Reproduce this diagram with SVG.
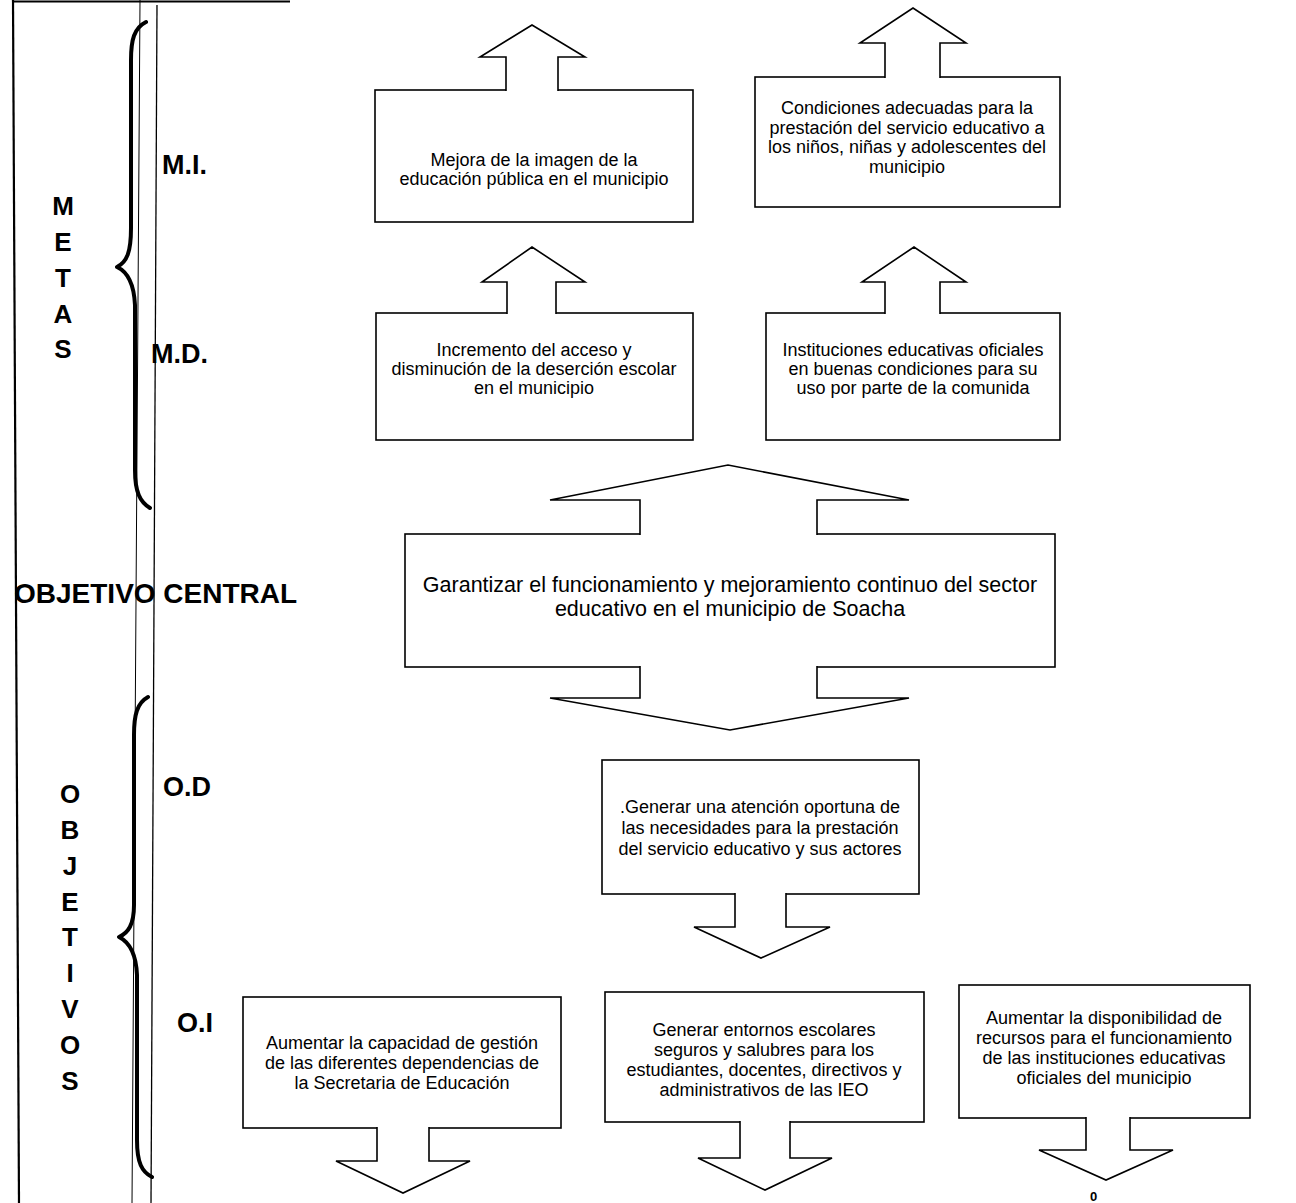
<svg xmlns="http://www.w3.org/2000/svg" width="1296" height="1203" viewBox="0 0 1296 1203">
<style>
.bg{fill:#fff}
.box{fill:#fff;stroke:#000;stroke-width:1.6}
.arr{fill:#fff;stroke:#000;stroke-width:1.6;stroke-linejoin:miter}
.t{font-family:"Liberation Sans",Arial,sans-serif;font-size:18px;fill:#000;text-anchor:middle}
.tc{font-size:21.5px}
.lbl{font-family:"Liberation Sans",Arial,sans-serif;font-weight:bold;font-size:27px;fill:#000}
.vl{font-family:"Liberation Sans",Arial,sans-serif;font-weight:bold;font-size:26px;fill:#000;text-anchor:middle}
.brace{fill:none;stroke:#000;stroke-width:4;stroke-linecap:round;stroke-linejoin:round}
.rule{fill:none;stroke:#000}
</style>
<rect class="bg" x="0" y="0" width="1296" height="1203"/>
<g id="frame">
<path class="rule" stroke-width="2" d="M12,1.5 H290"/>
<path class="rule" stroke-width="2.2" d="M13,0 L19,1203"/>
<path class="rule" stroke-width="1" d="M140,0 L132,1203"/>
<path class="rule" stroke-width="1.3" d="M157,5 L151,1203"/>
<path class="brace" d="M146,22 C134,28 131,40 131,60 L131,228 C131,252 127,262 117,267 C128,272 134,285 135,305 L135,470 C135,492 140,502 150,508"/>
<path class="brace" d="M148,697 C137,703 134,715 134,735 L134,905 C134,925 128,933 119,937 C129,942 136,952 137,975 L137,1140 C137,1163 142,1172 152,1177"/>
</g>
<g id="labels">
<text class="vl" x="63" y="215">M</text>
<text class="vl" x="63" y="251">E</text>
<text class="vl" x="63" y="287">T</text>
<text class="vl" x="63" y="323">A</text>
<text class="vl" x="63" y="358">S</text>
<text class="lbl" x="162" y="174">M.I.</text>
<text class="lbl" x="151" y="363">M.D.</text>
<text class="lbl" x="14" y="603" style="font-size:28px">OBJETIVO CENTRAL</text>
<text class="lbl" x="163" y="796">O.D</text>
<text class="lbl" x="177" y="1032">O.I</text>
<text class="vl" x="70" y="803">O</text>
<text class="vl" x="70" y="839">B</text>
<text class="vl" x="70" y="875">J</text>
<text class="vl" x="70" y="911">E</text>
<text class="vl" x="70" y="946">T</text>
<text class="vl" x="70" y="982">I</text>
<text class="vl" x="70" y="1018">V</text>
<text class="vl" x="70" y="1054">O</text>
<text class="vl" x="70" y="1090">S</text>
</g>
<g id="mi1">
<rect class="box" x="375" y="90" width="318" height="132"/>
<text class="t" x="534" y="166">Mejora de la imagen de la</text>
<text class="t" x="534" y="185">educación pública en el municipio</text>
</g>
<g id="mi2">
<rect class="box" x="755" y="77" width="305" height="130"/>
<text class="t" x="907" y="114">Condiciones adecuadas para la</text>
<text class="t" x="907" y="134">prestación del servicio educativo a</text>
<text class="t" x="907" y="153">los niños, niñas y adolescentes del</text>
<text class="t" x="907" y="173">municipio</text>
</g>
<g id="md1">
<rect class="box" x="376" y="313" width="317" height="127"/>
<text class="t" x="534" y="356">Incremento del acceso y</text>
<text class="t" x="534" y="375">disminución de la deserción escolar</text>
<text class="t" x="534" y="394">en el municipio</text>
</g>
<g id="md2">
<rect class="box" x="766" y="313" width="294" height="127"/>
<text class="t" x="913" y="356">Instituciones educativas oficiales</text>
<text class="t" x="913" y="375">en buenas condiciones para su</text>
<text class="t" x="913" y="394">uso por parte de la comunida</text>
</g>
<g id="central">
<rect class="box" x="405" y="534" width="650" height="133"/>
<text class="t tc" x="730" y="592">Garantizar el funcionamiento y mejoramiento continuo del sector</text>
<text class="t tc" x="730" y="616">educativo en el municipio de Soacha</text>
</g>
<g id="od">
<rect class="box" x="602" y="760" width="317" height="134"/>
<text class="t" x="760" y="813">.Generar una atención oportuna de</text>
<text class="t" x="760" y="834">las necesidades para la prestación</text>
<text class="t" x="760" y="855">del servicio educativo y sus actores</text>
</g>
<g id="oi1">
<rect class="box" x="243" y="997" width="318" height="131"/>
<text class="t" x="402" y="1049">Aumentar la capacidad de gestión</text>
<text class="t" x="402" y="1069">de las diferentes dependencias de</text>
<text class="t" x="402" y="1089">la Secretaria de Educación</text>
</g>
<g id="oi2">
<rect class="box" x="605" y="992" width="319" height="130"/>
<text class="t" x="764" y="1036">Generar entornos escolares</text>
<text class="t" x="764" y="1056">seguros y salubres para los</text>
<text class="t" x="764" y="1076">estudiantes, docentes, directivos y</text>
<text class="t" x="764" y="1096">administrativos de las IEO</text>
</g>
<g id="oi3">
<rect class="box" x="959" y="985" width="291" height="133"/>
<text class="t" x="1104" y="1024">Aumentar la disponibilidad de</text>
<text class="t" x="1104" y="1044">recursos para el funcionamiento</text>
<text class="t" x="1104" y="1064">de las instituciones educativas</text>
<text class="t" x="1104" y="1084">oficiales del municipio</text>
</g>
<g id="connectors">
<path class="arr" d="M506,90.9 V57 H480 L532,25 L585,57 H558 V90.9"/>
<path class="arr" d="M885,77.9 V43 H860 L913,8 L966,43 H940 V77.9"/>
<path class="arr" d="M507,313.9 V282 H482 L532,247 L585,282 H556 V313.9"/>
<path class="arr" d="M885,313.9 V282 H862 L914,247 L966,282 H940 V313.9"/>
<path class="arr" d="M640,534.9 V500 H550 L728,465 L909,500 H817 V534.9"/>
<path class="arr" d="M640,666.1 V698 H550 L730,730 L909,698 H817 V666.1"/>
<path class="arr" d="M735,893.1 V927 H694 L761,958 L830,927 H786 V893.1"/>
<path class="arr" d="M377,1127.1 V1161 H336 L403,1193 L470,1161 H429 V1127.1"/>
<path class="arr" d="M740,1121.1 V1158 H698 L765,1190 L832,1158 H790 V1121.1"/>
<path class="arr" d="M1086,1117.1 V1150 H1039 L1106,1180 L1173,1150 H1130 V1117.1"/>
</g>
<text x="1090" y="1201" style="font-family:'Liberation Sans',Arial,sans-serif;font-weight:bold;font-size:13px">0</text>
</svg>
